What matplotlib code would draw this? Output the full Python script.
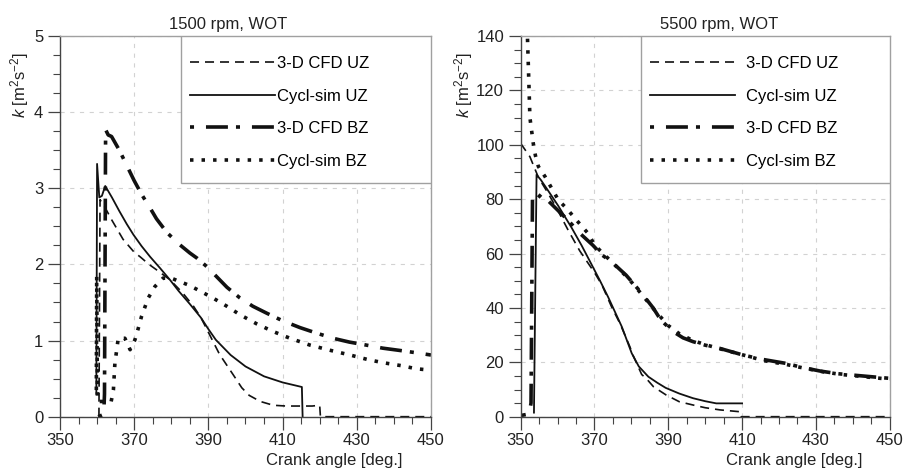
import matplotlib
matplotlib.use("Agg")
import matplotlib.pyplot as plt
from matplotlib.patches import Rectangle
from matplotlib.ticker import MultipleLocator

plt.rcParams['font.family'] = ['Liberation Sans', 'DejaVu Sans']
plt.rcParams['mathtext.fontset'] = 'custom'
plt.rcParams['mathtext.rm'] = 'Liberation Sans'
plt.rcParams['mathtext.it'] = 'Liberation Sans:italic'
plt.rcParams['lines.scale_dashes'] = False

labels = ['3-D CFD UZ', 'Cycl-sim UZ', '3-D CFD BZ', 'Cycl-sim BZ']
x_ticks = [350, 370, 390, 410, 430, 450]

# ---- 1500 rpm, WOT ----
ca_cfd_uz_1500 = [360.5, 360.8, 362, 364, 367, 370, 371.6, 374, 376, 379.6, 383, 386, 388,
                  390.4, 393, 396.7, 399, 401, 404, 407.5, 411, 414.7, 418, 420, 420.2, 450]
k_cfd_uz_1500 = [0.0, 2.85, 2.76, 2.58, 2.33, 2.16, 2.1, 2.0, 1.93, 1.8, 1.63, 1.45, 1.3,
                 1.07, 0.82, 0.55, 0.38, 0.28, 0.2, 0.15, 0.14, 0.14, 0.14, 0.15, 0.0, 0.0]

ca_sim_uz_1500 = [359.8, 360.0, 360.6, 361.3, 362.2, 364, 366, 368, 369.8, 372, 374.3, 377,
                  379.6, 382, 385, 388, 390, 392, 396, 400, 405, 410, 415.2, 415.4]
k_sim_uz_1500 = [0.3, 3.32, 2.88, 2.9, 3.03, 2.88, 2.7, 2.53, 2.39, 2.24, 2.1, 1.95,
                 1.8, 1.65, 1.48, 1.3, 1.15, 1.01, 0.81, 0.66, 0.53, 0.45, 0.39, 0.0]

ca_cfd_bz_1500 = [360.3, 361.8, 362.0, 362.3, 363, 363.9, 366, 368, 370, 372, 374.3, 376,
                  378.8, 382, 385, 387, 389.6, 392, 395, 398.5, 402, 405.7, 410, 414.7,
                  419, 423.6, 428, 432.6, 437, 441.6, 446, 450]
k_cfd_bz_1500 = [0.0, 0.03, 0.3, 3.77, 3.7, 3.68, 3.5, 3.3, 3.1, 2.92, 2.74, 2.6,
                 2.42, 2.27, 2.15, 2.08, 1.97, 1.85, 1.7, 1.56, 1.45, 1.36, 1.26, 1.17,
                 1.1, 1.03, 0.98, 0.94, 0.9, 0.87, 0.84, 0.81]

ca_sim_bz_1500 = [359.8, 359.9, 360.1, 363.8, 364.4, 364.8, 365.3, 365.7, 367.5, 368.9, 370.2,
                  371.1, 372, 373.8, 375.6, 377.8, 380, 382, 384.6, 387, 391.2, 395, 398.5,
                  403, 407.4, 412, 417.4, 423, 428.2, 433, 437, 442, 446, 450]
k_sim_bz_1500 = [0.35, 1.85, 0.2, 0.2, 0.35, 0.7, 0.88, 1.03, 1.03, 0.88, 1.01,
                 1.16, 1.32, 1.56, 1.71, 1.82, 1.82, 1.78, 1.73, 1.67, 1.56, 1.45, 1.34,
                 1.22, 1.12, 1.03, 0.94, 0.87, 0.81, 0.75, 0.71, 0.67, 0.63, 0.61]

# ---- 5500 rpm, WOT ----
ca_cfd_uz_5500 = [350, 352.5, 354.8, 357.5, 360, 362.9, 366, 368, 370, 372, 374.6, 377,
                  379.6, 380.4, 382.8, 384, 386, 389.4, 393, 396.7, 400, 404, 409.6, 409.8, 450]
k_cfd_uz_5500 = [100.5, 95.6, 88, 82, 76, 68.5, 61, 57, 53, 48.5, 40.5, 34,
                 25.7, 22.7, 15.5, 14.1, 11, 8, 5.5, 4.3, 3.3, 2.5, 1.8, 0.0, 0.0]

ca_sim_uz_5500 = [353.6, 354.3, 355.5, 357.5, 360.2, 363.8, 366.5, 369.2, 371.5, 373.7, 377.4,
                  380.1, 382, 384.6, 387, 389.3, 393, 396.7, 400, 403, 410]
k_sim_uz_5500 = [1.5, 89, 87, 83, 77.5, 69.5, 63, 56, 50, 44, 33.1,
                 23.3, 18.5, 14.7, 12.5, 10.6, 8.5, 6.8, 5.7, 4.9, 4.9]

ca_cfd_bz_5500 = [350.3, 352.3, 352.8, 353.2, 354, 355.7, 357, 360, 363, 366, 369.6, 372,
                  374.6, 378.6, 382.8, 385.9, 388, 391.3, 394, 396.7, 400, 404, 410.2, 415,
                  421.9, 426, 431.1, 436, 440, 445, 450]
k_cfd_bz_5500 = [0.5, 1.0, 5, 80, 79.5, 82, 80, 76, 72, 67.5, 63, 59.5,
                 57, 52, 45.4, 40, 35.5, 31.3, 29, 27.6, 26.3, 25.1, 22.7, 21.2,
                 19.6, 18.2, 16.8, 15.8, 15.3, 14.7, 14.1]

ca_sim_bz_5500 = [351.85, 352.2, 352.5, 353.4, 354, 354.8, 356.6, 358.4, 360.2, 362.5, 365.3,
                  368.2, 370.1, 374.6, 379.1, 382.8, 386.4, 390, 393, 396.7, 400, 405, 410,
                  416, 422, 427, 432, 437, 441, 446, 450]
k_sim_bz_5500 = [139, 123.7, 110, 100.6, 96, 92, 88.3, 84, 79.7, 76.5, 72,
                 67.5, 63, 57, 51, 45, 39, 33.5, 30.5, 28, 26.5, 24.6, 22.8,
                 20.6, 19.2, 17.8, 16.5, 15.5, 15, 14.3, 13.8]

styles = [
    dict(color='#111111', lw=1.2, linestyle=(0, (6.5, 4.3)), dash_capstyle='butt'),
    dict(color='#111111', lw=1.3, linestyle='-'),
    dict(color='#111111', lw=2.6, linestyle=(0, (2.9, 8.6, 15.8, 5.8)), dash_capstyle='butt'),
    dict(color='#111111', lw=2.6, linestyle=(0, (2.5, 5.8)), dash_capstyle='butt'),
]

fig = plt.figure(figsize=(9.06, 4.71), dpi=100)
ax1 = fig.add_axes([0.0662, 0.1153, 0.4095, 0.8083])
ax2 = fig.add_axes([0.5747, 0.1153, 0.4073, 0.8083])

panels = [
    (ax1, [(ca_cfd_uz_1500, k_cfd_uz_1500), (ca_sim_uz_1500, k_sim_uz_1500),
           (ca_cfd_bz_1500, k_cfd_bz_1500), (ca_sim_bz_1500, k_sim_bz_1500)],
     '1500 rpm, WOT', 0.454, (0, 5), 1, 0.25, -0.078, 0.12),
    (ax2, [(ca_cfd_uz_5500, k_cfd_uz_5500), (ca_sim_uz_5500, k_sim_uz_5500),
           (ca_cfd_bz_5500, k_cfd_bz_5500), (ca_sim_bz_5500, k_sim_bz_5500)],
     '5500 rpm, WOT', 0.537, (0, 140), 20, 5, -0.124, 0.66),
]

for ax, series, title, tx, ylim, ymaj, ymin, ylx, tpad in panels:
    handles = []
    for (x, y), st in zip(series, styles):
        h, = ax.plot(x, y, **st)
        handles.append(h)
    ax.set_xlim(350, 450)
    ax.set_ylim(*ylim)
    ax.set_xticks(x_ticks)
    ax.xaxis.set_minor_locator(MultipleLocator(5))
    ax.yaxis.set_major_locator(MultipleLocator(ymaj))
    ax.yaxis.set_minor_locator(MultipleLocator(ymin))
    ax.tick_params(which='major', direction='out', length=9, width=0.9, color='#444444',
                   labelsize=12, labelcolor='#222222', pad=3)
    ax.tick_params(which='minor', direction='out', length=5, width=0.8, color='#444444')
    ax.grid(True, which='major', color='#d2d2d2', linestyle=(0, (3, 4)), lw=0.8)
    for s in ['left', 'bottom']:
        ax.spines[s].set_color('#444444')
        ax.spines[s].set_linewidth(1.0)
    for s in ['top', 'right']:
        ax.spines[s].set_color('#a0a0a0')
        ax.spines[s].set_linewidth(1.0)
    ax.set_title(title, fontsize=12, x=tx, pad=5, color='#222222')
    ax.set_xlabel('Crank angle [deg.]', fontsize=12, color='#222222')
    ax.xaxis.set_label_coords(0.74, -0.095)
    ax.set_ylabel(r'$k$ [m$^2$s$^{-2}$]', fontsize=12, color='#222222')
    ax.yaxis.set_label_coords(ylx, 0.871)
    ax.add_patch(Rectangle((0.325, 0.614), 0.675, 0.386, transform=ax.transAxes,
                           facecolor='white', edgecolor='#a0a0a0', lw=1.0, zorder=3))
    leg = ax.legend(handles, labels, loc='upper left', bbox_to_anchor=(0.35, 0.947),
                    frameon=False, fontsize=12, handlelength=5.1, handletextpad=tpad,
                    labelspacing=1.05, borderpad=0, borderaxespad=0)
    leg.set_zorder(4)

fig.savefig('out.png', dpi=100)
